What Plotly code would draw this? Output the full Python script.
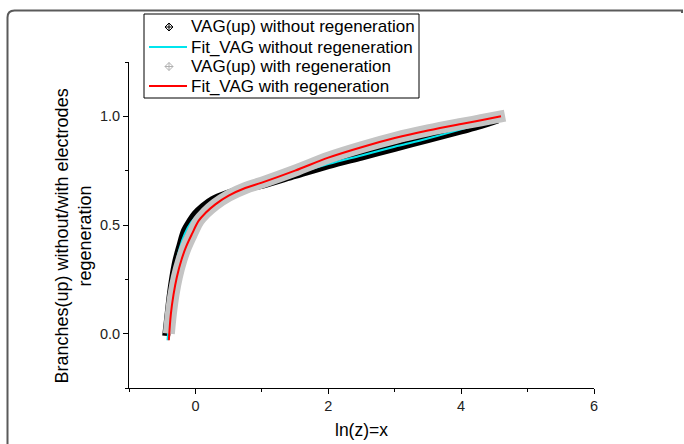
import plotly.graph_objects as go

# Measured VAG(up) branches, without electrode regeneration
x_vag_no = [-0.44, -0.40, -0.37, -0.34, -0.29, -0.23, -0.155, -0.07, 0.00, 0.12, 0.26,
            0.50, 0.75, 1.00, 1.50, 2.00, 2.50, 3.00, 3.50, 4.00, 4.30, 4.55]
y_vag_no = [-0.01, 0.10, 0.18, 0.245, 0.33, 0.40, 0.475, 0.52, 0.55, 0.585, 0.615,
            0.645, 0.67, 0.685, 0.73, 0.775, 0.815, 0.855, 0.895, 0.935, 0.96, 0.985]

# Fit of the branches without regeneration
x_fit_no = [-0.42, -0.39, -0.35, -0.30, -0.24, -0.16, -0.06, 0.05, 0.20, 0.40, 0.70,
            1.00, 1.50, 2.00, 2.50, 3.00, 3.40, 4.00, 4.55]
y_fit_no = [-0.03, 0.10, 0.22, 0.31, 0.39, 0.46, 0.515, 0.55, 0.59, 0.625, 0.66,
            0.69, 0.735, 0.78, 0.82, 0.86, 0.89, 0.94, 0.99]

# Measured VAG(up) branches, with electrode regeneration
x_vag_re = [-0.40, -0.37, -0.33, -0.28, -0.21, -0.14, -0.05, 0.05, 0.15, 0.30, 0.50,
            0.75, 1.00, 1.50, 2.00, 2.50, 3.00, 3.50, 4.00, 4.30, 4.66]
y_vag_re = [0.00, 0.09, 0.18, 0.26, 0.34, 0.40, 0.46, 0.52, 0.555, 0.595, 0.635,
            0.67, 0.695, 0.75, 0.81, 0.858, 0.90, 0.935, 0.965, 0.982, 1.003]

# Fit of the branches with regeneration
x_fit_re = [-0.40, -0.37, -0.33, -0.28, -0.21, -0.14, -0.05, 0.05, 0.15, 0.30, 0.50,
            0.75, 1.00, 1.50, 2.00, 2.50, 3.00, 3.50, 4.00, 4.30, 4.60]
y_fit_re = [-0.03, 0.09, 0.18, 0.26, 0.34, 0.40, 0.46, 0.52, 0.555, 0.595, 0.635,
            0.67, 0.695, 0.75, 0.81, 0.858, 0.90, 0.935, 0.965, 0.982, 1.00]

names = ["VAG(up) without regeneration", "Fit_VAG without regeneration",
         "VAG(up) with regeneration", "Fit_VAG with regeneration"]

x_ticks = [0, 2, 4, 6]
y_ticks = [0.0, 0.5, 1.0]
y_tick_text = ["0.0", "0.5", "1.0"]

x_title = "ln(z)=x"
y_title = "Branches(up) without/with electrodes<br>regeneration"

FONT = "Arial, Liberation Sans, sans-serif"
CYAN = "#00e5ee"
GREY = "#c4c4c4"

# plot area in pixels (left, top, right, bottom)
W, H = 684, 444
PL, PT, PR, PB = 129, 62, 594, 388


def px(x):
    return (x - PL) / (PR - PL)


def py(y):
    return (PB - y) / (PB - PT)


fig = go.Figure()

# dense marker bands drawn as thick smoothed strokes
fig.add_trace(go.Scatter(x=x_vag_no, y=y_vag_no, mode="lines", name=names[0],
                         line=dict(color="black", width=8, shape="spline", smoothing=1)))
fig.add_trace(go.Scatter(x=x_fit_no, y=y_fit_no, mode="lines", name=names[1],
                         line=dict(color=CYAN, width=2, shape="spline", smoothing=1)))
fig.add_trace(go.Scatter(x=x_vag_re, y=y_vag_re, mode="lines", name=names[2],
                         line=dict(color=GREY, width=12, shape="spline", smoothing=1)))
fig.add_trace(go.Scatter(x=x_fit_re, y=y_fit_re, mode="lines", name=names[3],
                         line=dict(color="red", width=2, shape="spline", smoothing=1)))

shapes = []
annotations = []

# outer frame (top and left edges with a rounded corner)
L, T, R, B = px(7.5), py(10.5), px(682), py(444)
rx, ry = 7 / (PR - PL), 7 / (PB - PT)
shapes.append(dict(type="path", xref="paper", yref="paper",
                   path=f"M {L},{B} L {L},{T-ry} Q {L},{T} {L+rx},{T} L {R},{T} L {R},{py(13)}",
                   line=dict(color="#5a5a5a", width=2)))

# legend box
shapes.append(dict(type="rect", xref="paper", yref="paper",
                   x0=px(144), x1=px(419), y0=py(98), y1=py(14),
                   line=dict(color="black", width=1), fillcolor="white", layer="above"))

row_y = [27, 47, 66.5, 86]
sym_x0, sym_x1, sym_xc = 149, 187, 169
text_x = 188.5
hx, hy = 4 / (PR - PL), 4 / (PB - PT)
legend_kind = [("marker", "black"), ("line", CYAN), ("marker", "#b0b0b0"), ("line", "red")]
for (kind, col), name, ry_px in zip(legend_kind, names, row_y):
    yc = py(ry_px)
    if kind == "line":
        shapes.append(dict(type="line", xref="paper", yref="paper",
                           x0=px(sym_x0), x1=px(sym_x1), y0=yc, y1=yc,
                           line=dict(color=col, width=2), layer="above"))
    else:
        xc = px(sym_xc)
        shapes.append(dict(type="path", xref="paper", yref="paper", layer="above",
                           fillcolor="rgba(0,0,0,0)",
                           path=(f"M {xc-hx},{yc} L {xc},{yc+hy} L {xc+hx},{yc} L {xc},{yc-hy} Z "
                                 f"M {xc-hx},{yc} L {xc+hx},{yc} M {xc},{yc-hy} L {xc},{yc+hy}"),
                           line=dict(color=col, width=1)))
    annotations.append(dict(text=name, xref="paper", yref="paper", x=px(text_x), y=yc,
                            xanchor="left", yanchor="middle", showarrow=False,
                            font=dict(size=17, family=FONT, color="black")))

# y-axis title, rotated
annotations.append(dict(text=y_title, xref="paper", yref="paper", x=px(72.5), y=py(236),
                        xanchor="center", yanchor="middle", textangle=-90, showarrow=False,
                        font=dict(size=18, family=FONT, color="black")))

fig.update_layout(
    width=W, height=H,
    margin=dict(l=PL, r=W - PR, t=PT, b=H - PB),
    paper_bgcolor="white", plot_bgcolor="white",
    font=dict(family=FONT, color="black"),
    showlegend=False,
    shapes=shapes, annotations=annotations,
    xaxis=dict(range=[-1, 6], showgrid=False, zeroline=False, automargin=False,
               showline=True, linecolor="black", linewidth=1,
               ticks="outside", ticklen=5, tickcolor="black",
               tickvals=x_ticks, tickfont=dict(size=14.5, color="#222"),
               minor=dict(dtick=1, tick0=0, ticks="outside", ticklen=3, tickcolor="black"),
               title=dict(text=x_title, font=dict(size=17.5), standoff=10)),
    yaxis=dict(range=[-0.25, 1.25], showgrid=False, zeroline=False, automargin=False,
               showline=True, linecolor="black", linewidth=1,
               ticks="outside", ticklen=5, tickcolor="black",
               tickvals=y_ticks, ticktext=y_tick_text, tickfont=dict(size=14.5, color="#222"),
               minor=dict(dtick=0.25, tick0=0, ticks="outside", ticklen=3, tickcolor="black")),
)

fig.write_html("out.html")
